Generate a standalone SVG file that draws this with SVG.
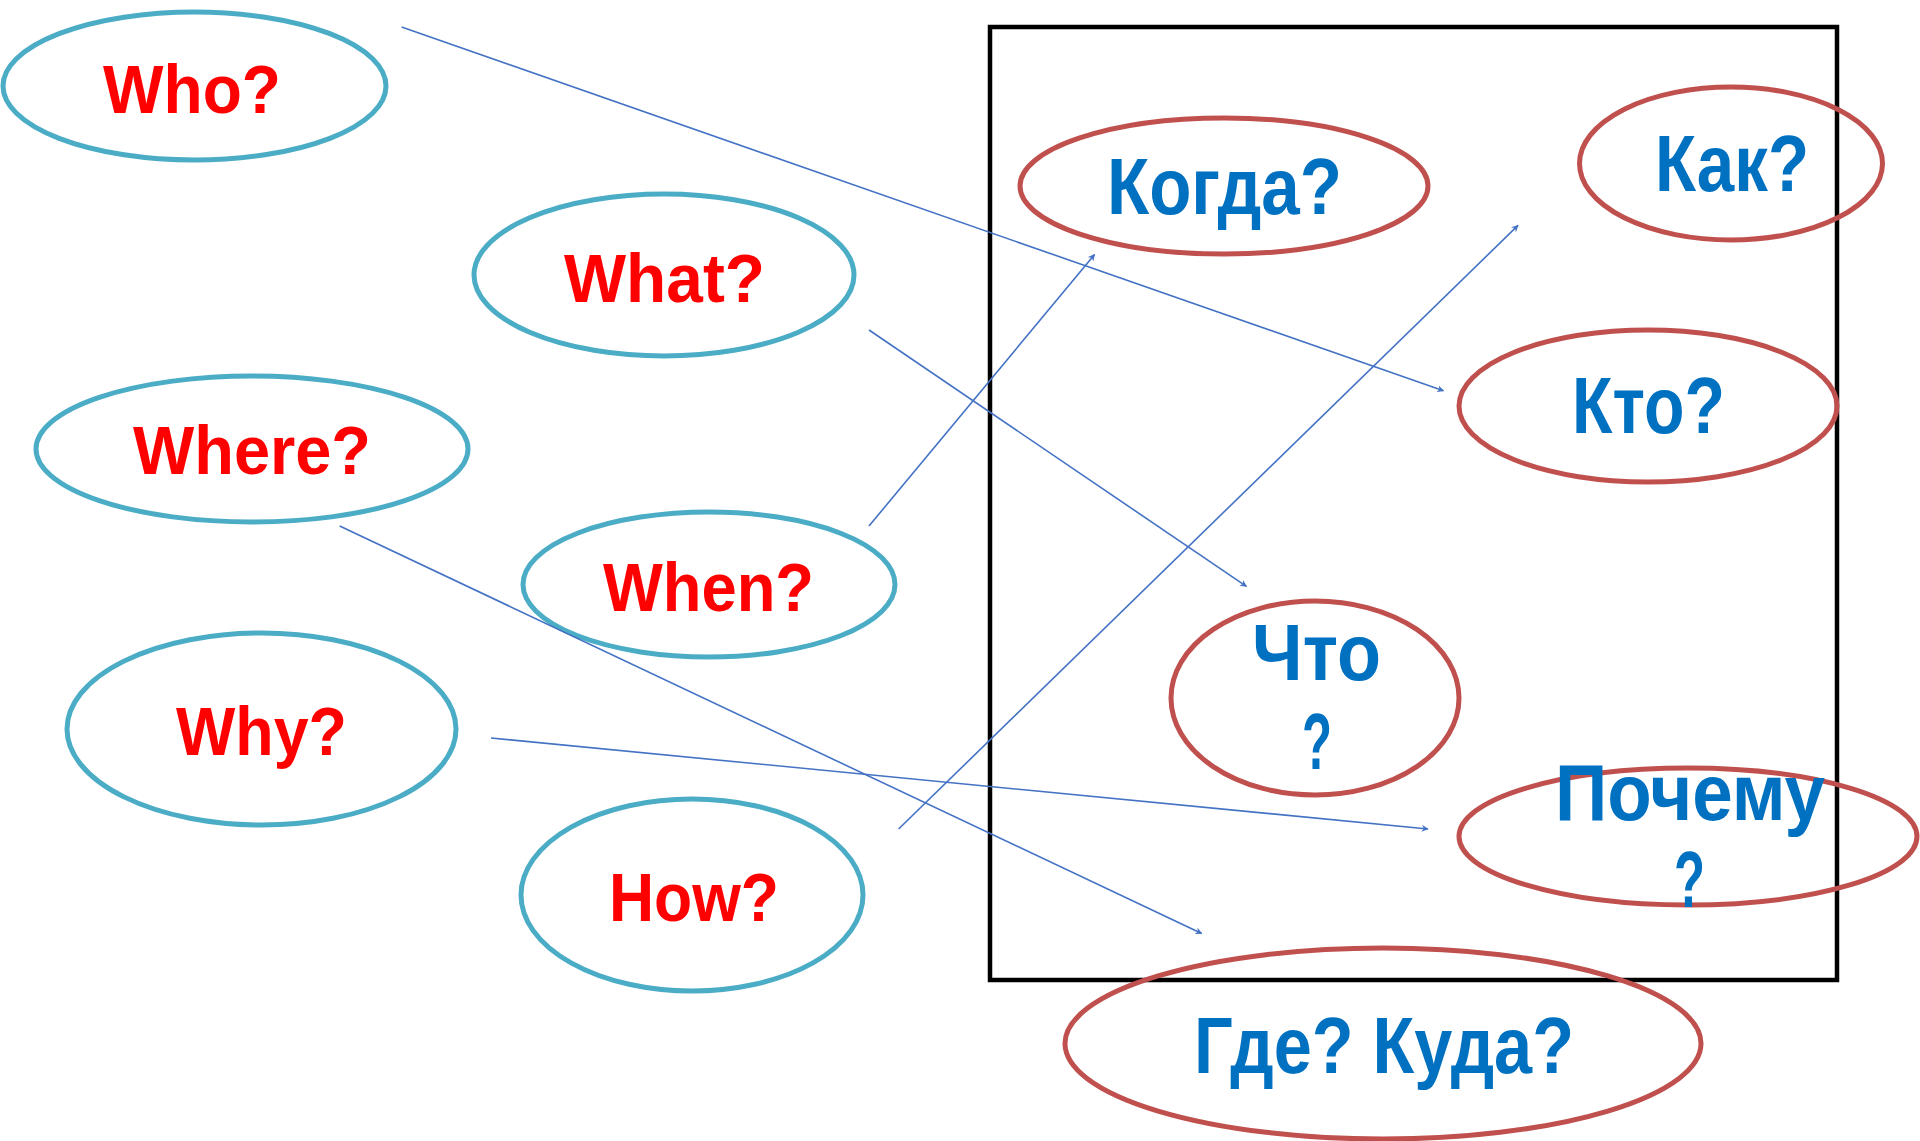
<svg xmlns="http://www.w3.org/2000/svg" width="1920" height="1141" viewBox="0 0 1920 1141">
<style>
.en ellipse{fill:none;stroke:#4BACC6;stroke-width:5}
.ru ellipse{fill:none;stroke:#C0504D;stroke-width:5}
.en text{font-family:"Liberation Sans",Arial,sans-serif;font-weight:bold;font-size:69px;fill:#FF0000}
.ru text{font-family:"Liberation Sans",Arial,sans-serif;font-weight:bold;font-size:79px;fill:#0070C0}
.conn line{stroke:#4472C4;stroke-width:1.6;marker-end:url(#ah)}
</style>
<defs>
<marker id="ah" viewBox="0 0 10 10" refX="9" refY="5" markerWidth="7" markerHeight="7" orient="auto" markerUnits="userSpaceOnUse">
<path d="M0,0 L10,5 L0,10 L3,5 Z" fill="#4472C4"/>
</marker>
</defs>
<rect width="1920" height="1141" fill="#FFFFFF"/>
<rect id="frame" x="990" y="27" width="847" height="953" fill="none" stroke="#000000" stroke-width="4.5"/>
<g class="en">
<g id="who"><ellipse cx="194.5" cy="86" rx="191.5" ry="74"/><text x="103" y="113" textLength="178" lengthAdjust="spacingAndGlyphs">Who?</text></g>
<g id="what"><ellipse cx="664" cy="275" rx="190" ry="81"/><text x="564" y="302" textLength="201" lengthAdjust="spacingAndGlyphs">What?</text></g>
<g id="where"><ellipse cx="252" cy="449" rx="216" ry="73"/><text x="133" y="474" textLength="238" lengthAdjust="spacingAndGlyphs">Where?</text></g>
<g id="when"><ellipse cx="709" cy="584.5" rx="186" ry="72.5"/><text x="603" y="611" textLength="211" lengthAdjust="spacingAndGlyphs">When?</text></g>
<g id="why"><ellipse cx="261.5" cy="729" rx="194.5" ry="96"/><text x="176" y="755" textLength="171" lengthAdjust="spacingAndGlyphs">Why?</text></g>
<g id="how"><ellipse cx="692" cy="895" rx="171" ry="96"/><text x="609" y="921" textLength="170" lengthAdjust="spacingAndGlyphs">How?</text></g>
</g>
<g class="ru">
<g id="kogda"><ellipse cx="1224" cy="186" rx="204" ry="68"/><text x="1107" y="214" textLength="235" lengthAdjust="spacingAndGlyphs">Когда?</text></g>
<g id="kak"><ellipse cx="1731" cy="163.5" rx="151.5" ry="76.5"/><text x="1655" y="191" textLength="154" lengthAdjust="spacingAndGlyphs">Как?</text></g>
<g id="kto"><ellipse cx="1648" cy="406" rx="189" ry="76"/><text x="1572" y="433" textLength="153" lengthAdjust="spacingAndGlyphs">Кто?</text></g>
<g id="chto"><ellipse cx="1315" cy="698" rx="144" ry="97"/><text x="1252" y="680" textLength="129" lengthAdjust="spacingAndGlyphs">Что</text><text x="1302" y="769" textLength="30" lengthAdjust="spacingAndGlyphs">?</text></g>
<g id="pochemu"><ellipse cx="1688" cy="836.5" rx="229" ry="68.5"/><text x="1555" y="820" textLength="270" lengthAdjust="spacingAndGlyphs">Почему</text><text x="1674" y="907" textLength="31" lengthAdjust="spacingAndGlyphs">?</text></g>
<g id="gde"><ellipse cx="1383" cy="1043.5" rx="318" ry="95.5"/><text x="1194" y="1073" textLength="380" lengthAdjust="spacingAndGlyphs">Где? Куда?</text></g>
</g>
<g class="conn" id="connectors">
<line x1="401.6" y1="27" x2="1443.5" y2="390.8"/>
<line x1="869" y1="330" x2="1246.4" y2="586.4"/>
<line x1="869" y1="526" x2="1094.6" y2="254.5"/>
<line x1="339.7" y1="526" x2="1201.7" y2="933.5"/>
<line x1="491" y1="738" x2="1428" y2="829"/>
<line x1="898.6" y1="829" x2="1518" y2="225.4"/>
</g>
</svg>
